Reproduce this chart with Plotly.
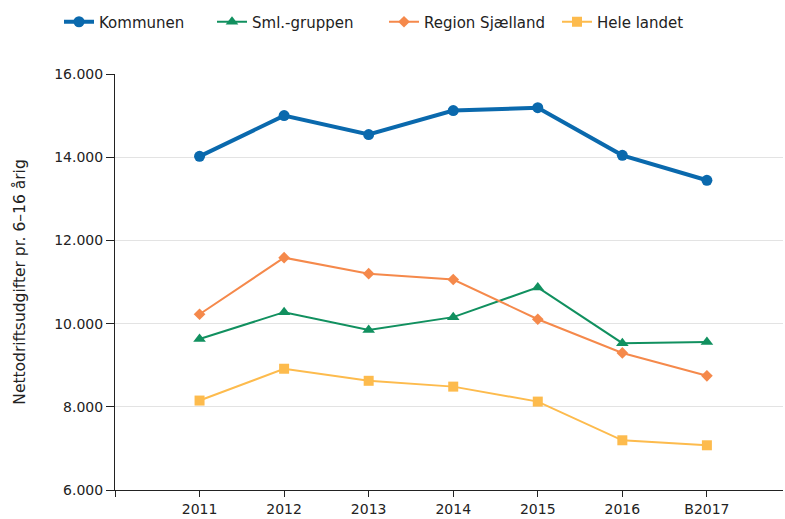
import plotly.graph_objects as go

years = ["2011", "2012", "2013", "2014", "2015", "2016", "B2017"]
kommunen = [14020, 15000, 14545, 15120, 15190, 14045, 13445]
sml_gruppen = [9630, 10275, 9845, 10155, 10870, 9530, 9555]
region_sjaelland = [10225, 11585, 11200, 11060, 10105, 9295, 8745]
hele_landet = [8150, 8915, 8625, 8485, 8125, 7195, 7075]

xs = list(range(len(years)))

series = [
    ("Kommunen", kommunen, "#0a69ad", 4, "circle", 11),
    ("Sml.-gruppen", sml_gruppen, "#11905f", 2, "triangle-up", 11),
    ("Region Sjælland", region_sjaelland, "#f5894b", 2, "diamond", 9),
    ("Hele landet", hele_landet, "#fdbb4d", 2, "square", 10),
]
legend_x = [59, 212, 384, 557]

fig = go.Figure()
legend_ids = ["legend", "legend2", "legend3", "legend4"]
for (name, vals, color, w, sym, sz), lid in zip(series, legend_ids):
    fig.add_trace(go.Scatter(
        x=xs, y=vals, name=name, mode="lines+markers", legend=lid,
        showlegend=True,
        line=dict(color=color, width=w),
        marker=dict(symbol=sym, size=sz, color=color),
    ))

legends = {}
for lid, lx in zip(legend_ids, legend_x):
    legends[lid] = dict(orientation="h", xref="container", yref="container",
                        x=lx / 785, y=1 - 22 / 519, xanchor="left",
                        yanchor="middle", font=dict(size=15),
                        bgcolor="rgba(0,0,0,0)")

fig.update_layout(
    width=785, height=519,
    showlegend=True,
    margin=dict(l=115, r=2, t=74, b=26),
    plot_bgcolor="white", paper_bgcolor="white",
    font=dict(family="DejaVu Sans", size=14, color="#222"),
    separators=",.",
    xaxis=dict(range=[-1, 6.9], tickvals=[-1] + xs, ticktext=[""] + years,
               showgrid=False, showline=True, linecolor="#222", linewidth=1,
               ticks="outside", ticklen=6, tickcolor="#222", zeroline=False,
               tickfont=dict(size=14)),
    yaxis=dict(range=[6000, 16000], dtick=2000, tickformat=",.0f",
               showgrid=True, gridcolor="#e3e3e3", showline=True,
               linecolor="#222", linewidth=1, ticks="outside", ticklen=8,
               tickcolor="#222", zeroline=False, tickfont=dict(size=14),
               title=dict(text="Nettodriftsudgifter pr. 6–16 årig",
                          font=dict(size=15.5), standoff=24)),
    **legends,
)

fig.write_html("out.html", config={"displayModeBar": False},
               post_script="document.body.style.margin='0';")
